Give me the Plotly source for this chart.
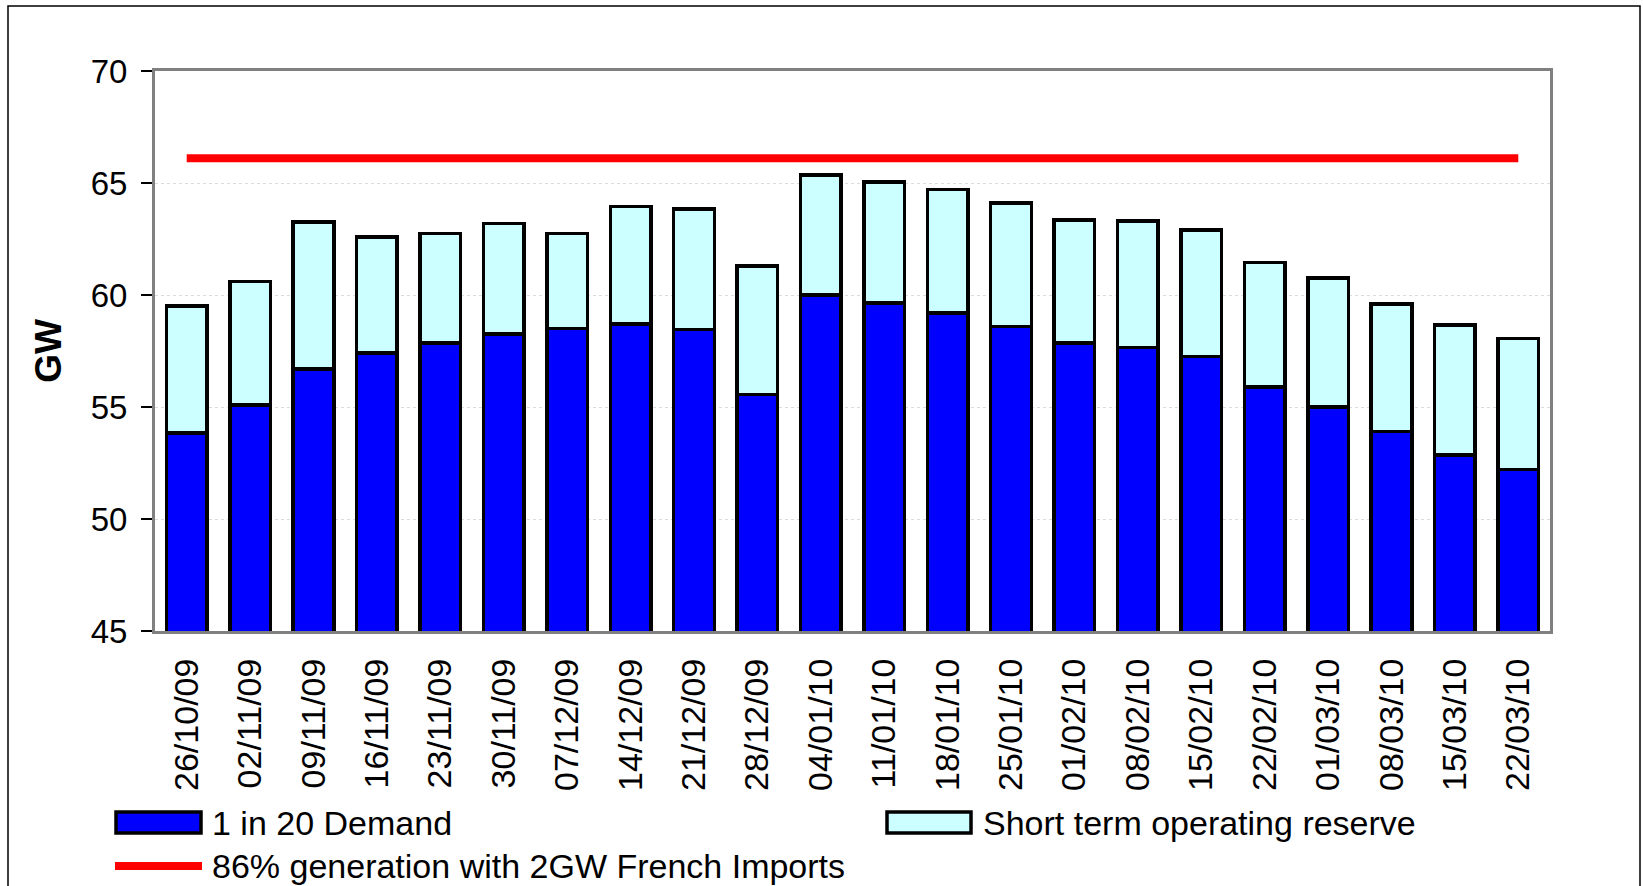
import plotly.graph_objects as go

# ---- data ----
weeks = ["26/10/09", "02/11/09", "09/11/09", "16/11/09", "23/11/09", "30/11/09",
         "07/12/09", "14/12/09", "21/12/09", "28/12/09", "04/01/10", "11/01/10",
         "18/01/10", "25/01/10", "01/02/10", "08/02/10", "15/02/10", "22/02/10",
         "01/03/10", "08/03/10", "15/03/10", "22/03/10"]
demand_1in20 = [53.85, 55.1, 56.7, 57.4, 57.85, 58.25, 58.5, 58.7, 58.45, 55.55, 60.0,
                59.65, 59.2, 58.6, 57.85, 57.65, 57.25, 55.9, 55.0, 53.9, 52.85, 52.2]
stor_reserve = [5.65, 5.5, 6.55, 5.2, 4.9, 4.95, 4.25, 5.25, 5.4, 5.75, 5.35,
                5.4, 5.5, 5.5, 5.5, 5.65, 5.65, 5.55, 5.75, 5.7, 5.8, 5.85]
generation_86 = [66.1] * len(weeks)

y_ticks = [45, 50, 55, 60, 65, 70]
names = ["1 in 20 Demand", "Short term operating reserve",
         "86% generation with 2GW French Imports"]

# ---- layout geometry (pixels) ----
W, H = 1643, 886
L, R, T, B = 155, 1550, 71, 631
FONT = "Liberation Sans, Arial, sans-serif"


def px(x):
    return (x - L) / (R - L)


def py(y):
    return (B - y) / (B - T)


fig = go.Figure()
fig.add_trace(go.Bar(x=weeks, y=demand_1in20, name=names[0],
                     marker=dict(color="#0000FF", line=dict(color="black", width=3.5)),
                     showlegend=False))
fig.add_trace(go.Bar(x=weeks, y=stor_reserve, name=names[1],
                     marker=dict(color="#CCFFFF", line=dict(color="black", width=3.5)),
                     showlegend=False))
fig.add_trace(go.Scatter(x=weeks, y=generation_86, name=names[2], mode="lines",
                         line=dict(color="#FF0000", width=8), showlegend=False))

shapes = [
    # outer chart border
    dict(type="rect", xref="paper", yref="paper", x0=px(8), x1=px(1640), y0=py(920), y1=py(6),
         line=dict(color="black", width=1.5), layer="below"),
    # legend swatches
    dict(type="rect", xref="paper", yref="paper", x0=px(116), x1=px(201), y0=py(833), y1=py(812),
         fillcolor="#0000FF", line=dict(color="black", width=3.5)),
    dict(type="rect", xref="paper", yref="paper", x0=px(887), x1=px(971), y0=py(833), y1=py(812),
         fillcolor="#CCFFFF", line=dict(color="black", width=3.5)),
    dict(type="line", xref="paper", yref="paper", x0=px(115), x1=px(202), y0=py(866), y1=py(866),
         line=dict(color="#FF0000", width=8)),
]

annotations = [
    dict(text=names[0], xref="paper", yref="paper", x=px(210), y=py(823), xanchor="left",
         yanchor="middle", showarrow=False, font=dict(size=34, color="black", family=FONT)),
    dict(text=names[1], xref="paper", yref="paper", x=px(981), y=py(823), xanchor="left",
         yanchor="middle", showarrow=False, font=dict(size=34, color="black", family=FONT)),
    dict(text=names[2], xref="paper", yref="paper", x=px(210), y=py(866), xanchor="left",
         yanchor="middle", showarrow=False, font=dict(size=34, color="black", family=FONT)),
]

fig.update_layout(
    width=W, height=H,
    margin=dict(l=L, r=W - R, t=T, b=H - B),
    paper_bgcolor="white", plot_bgcolor="white",
    barmode="stack", bargap=0.36,
    font=dict(family=FONT, color="black", size=33),
    shapes=shapes, annotations=annotations,
    showlegend=False,
)
fig.update_xaxes(
    type="category", tickangle=-90, ticks="", ticklabelstandoff=11,
    tickfont=dict(size=34, family=FONT, color="black"),
    showline=True, linecolor="#808080", linewidth=3, mirror=True,
    showgrid=False,
)
fig.update_yaxes(
    range=[45, 70], tickvals=y_ticks, ticks="outside", ticklen=11, tickwidth=1.5,
    tickcolor="black", ticklabelstandoff=7,
    tickfont=dict(size=33, family=FONT, color="black"),
    showline=True, linecolor="#808080", linewidth=3, mirror=True,
    showgrid=True, gridcolor="#dcdcdc", gridwidth=1, griddash="dot",
    title=dict(text="<b>GW</b>", font=dict(size=37, family=FONT, color="black"), standoff=18),
    zeroline=False,
)

fig.write_html("out.html",
               config={"displayModeBar": False},
               post_script="document.body.style.margin='0px';document.body.style.overflow='hidden';")
